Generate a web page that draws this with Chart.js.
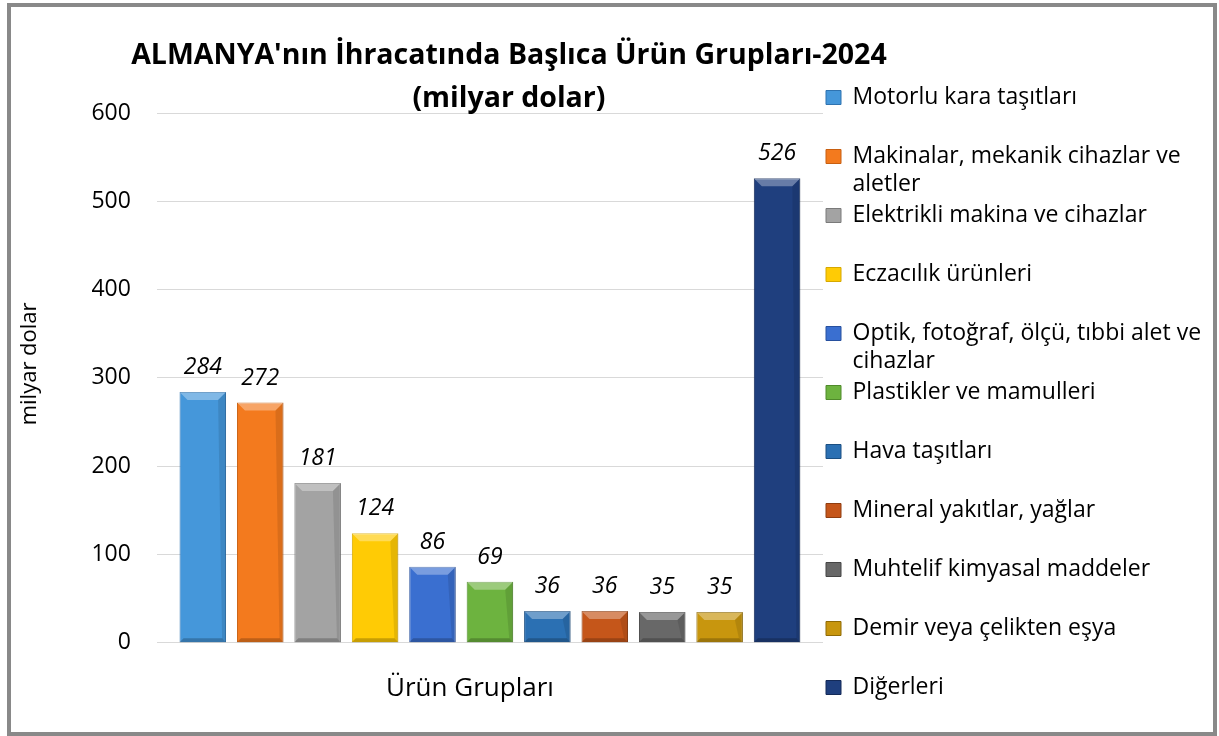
<!DOCTYPE html>
<html lang="tr">
<head>
<meta charset="utf-8">
<title>ALMANYA'nın İhracatında Başlıca Ürün Grupları-2024</title>
<script src="https://cdn.jsdelivr.net/npm/chart.js@4.4.1/dist/chart.umd.min.js"></script>
<style>
  html, body { margin: 0; padding: 0; background: #fff; }
  .frame {
    position: absolute; left: 7px; top: 3px;
    width: 1210px; height: 733px;
    box-sizing: border-box;
    border: 4px solid #898989;
    background: #fff;
  }
  .chart-box { position: relative; width: 1202px; height: 725px; }
</style>
</head>
<body>
<div class="frame"><div class="chart-box"><canvas id="exportChart"></canvas></div></div>
<script>
// veriler
const categories = [
  'Motorlu kara taşıtları',
  'Makinalar, mekanik cihazlar ve aletler',
  'Elektrikli makina ve cihazlar',
  'Eczacılık ürünleri',
  'Optik, fotoğraf, ölçü, tıbbi alet ve cihazlar',
  'Plastikler ve mamulleri',
  'Hava taşıtları',
  'Mineral yakıtlar, yağlar',
  'Muhtelif kimyasal maddeler',
  'Demir veya çelikten eşya',
  'Diğerleri'
];
const values = [284, 272, 181, 124, 86, 69, 36, 36, 35, 35, 526];
const yTicks = [0, 100, 200, 300, 400, 500, 600];

const barColors = ['#4597da', '#f37a1e', '#a3a3a3', '#ffcb05', '#3a6fd0', '#6db33f',
                   '#2b70b3', '#c5561a', '#686868', '#c8960e', '#1f3f7e'];
const edgeColors = ['#2f73b0', '#c85f10', '#7a7a7a', '#d6a800', '#27509e', '#4f8a2a',
                    '#1b4f82', '#8f3d10', '#454545', '#8f6a05', '#142a58'];

const FONT = 'Open Sans';
const LEGEND_WIDTH = 388;

function wrapText(ctx, text, maxW) {
  const words = text.split(' ');
  const lines = [];
  let line = '';
  words.forEach(w => {
    const test = line ? line + ' ' + w : w;
    if (line && ctx.measureText(test).width > maxW) {
      lines.push(line);
      line = w;
    } else {
      line = test;
    }
  });
  lines.push(line);
  return lines;
}

// lejant, Excel'deki gibi geniş olsun (varsayılan sınır genişliğin 1/4'ü)
const legendWidth = {
  id: 'legendWidth',
  beforeLayout(chart) {
    const lg = chart.legend;
    if (lg && !lg._wide) {
      const orig = lg.update.bind(lg);
      lg.update = (mw, mh, margins) => orig(LEGEND_WIDTH, mh, margins);
      lg._wide = true;
    }
  }
};

// başlık ve eksen başlıkları Excel'deki yerlerine
const titleShift = {
  id: 'titleShift',
  afterLayout(chart) {
    const area = chart.chartArea;
    const cx = (area.left + area.right) / 2 + 19;
    const TitleCls = chart.titleBlock && chart.titleBlock.constructor;
    chart.boxes.forEach(b => {
      if (TitleCls && b instanceof TitleCls) {
        b.left = cx - 460;
        b.right = cx + 460;
      }
    });
    const xs = chart.scales.x, ys = chart.scales.y;
    xs.left -= 20; xs.right -= 20;
    ys.top -= 14; ys.bottom -= 14;
  }
};

// çubuk üzerindeki kabartma efekti + değer etiketleri
const barDecor = {
  id: 'barDecor',
  afterDatasetsDraw(chart) {
    const ctx = chart.ctx;
    const meta = chart.getDatasetMeta(0);
    ctx.save();
    meta.data.forEach((bar, i) => {
      const p = bar.getProps(['x', 'y', 'base', 'width'], true);
      const l = p.x - p.width / 2, r = p.x + p.width / 2, t = p.y, btm = p.base;
      const b = Math.min(8, (btm - t) / 2);
      ctx.fillStyle = 'rgba(255,255,255,0.32)';
      ctx.beginPath();
      ctx.moveTo(l, t); ctx.lineTo(r, t); ctx.lineTo(r - b, t + b); ctx.lineTo(l + b, t + b);
      ctx.closePath(); ctx.fill();
      ctx.fillStyle = 'rgba(0,0,0,0.10)';
      ctx.beginPath();
      ctx.moveTo(r, t); ctx.lineTo(r, btm); ctx.lineTo(r - 4, btm - 4); ctx.lineTo(r - b, t + b);
      ctx.closePath(); ctx.fill();
      ctx.fillStyle = 'rgba(0,0,0,0.22)';
      ctx.beginPath();
      ctx.moveTo(l, btm); ctx.lineTo(r, btm); ctx.lineTo(r - 4, btm - 4); ctx.lineTo(l + 4, btm - 4);
      ctx.closePath(); ctx.fill();

      ctx.fillStyle = '#000';
      ctx.font = 'italic 23px "' + FONT + '"';
      ctx.textAlign = 'center';
      ctx.textBaseline = 'alphabetic';
      ctx.fillText(String(values[i]), p.x, t - 18);
    });
    ctx.restore();
  }
};

const data = {
  datasets: [{
    data: values.map((v, i) => ({ x: i, y: v })),
    backgroundColor: barColors,
    borderColor: edgeColors,
    borderWidth: 1,
    categoryPercentage: 1,
    barPercentage: 0.81,
    clip: false
  }]
};

const config = {
  type: 'bar',
  data: data,
  options: {
    responsive: true,
    maintainAspectRatio: false,
    animation: false,
    layout: { padding: { top: 0, right: 2, bottom: 0, left: 0 } },
    scales: {
      x: {
        type: 'linear',
        offset: false,
        min: -0.8,
        max: 10.8,
        afterBuildTicks: (scale) => { scale.ticks = categories.map((c, i) => ({ value: i })); },
        grid: { display: false },
        border: { display: false },
        ticks: { display: false },
        title: {
          display: true, text: 'Ürün Grupları', color: '#000',
          font: { family: FONT, size: 26 },
          padding: { top: 22, bottom: 28 }
        }
      },
      y: {
        min: 0,
        max: 600,
        afterBuildTicks: (scale) => { scale.ticks = yTicks.map(v => ({ value: v })); },
        ticks: { padding: 26, color: '#000', font: { family: FONT, size: 23 } },
        grid: { color: '#d9d9d9', lineWidth: 1, drawTicks: false },
        border: { display: false },
        title: {
          display: true, text: 'milyar dolar', color: '#000',
          font: { family: FONT, size: 22 },
          padding: { top: 6, bottom: 22 }
        }
      }
    },
    plugins: {
      tooltip: { enabled: false },
      title: {
        display: true,
        fullSize: false,
        text: "ALMANYA'nın İhracatında Başlıca Ürün Grupları-2024",
        color: '#000',
        font: { family: FONT, size: 28.5, weight: 'bold', lineHeight: '32px' },
        padding: { top: 33, bottom: 13 }
      },
      subtitle: {
        display: true,
        fullSize: false,
        text: '(milyar dolar)',
        color: '#000',
        font: { family: FONT, size: 28.5, weight: 'bold', lineHeight: '28px' },
        padding: { top: 0, bottom: 0 }
      },
      legend: {
        position: 'right',
        align: 'start',
        title: { display: true, text: ' ', font: { size: 10, lineHeight: 1 }, padding: { top: 66, bottom: 0 } },
        labels: {
          boxWidth: 15,
          boxHeight: 14,
          padding: 3,
          color: '#000',
          font: { family: FONT, size: 23, lineHeight: '28px' },
          generateLabels(chart) {
            const ctx = chart.ctx;
            ctx.save();
            ctx.font = '23px "' + FONT + '"';
            const items = categories.map((name, i) => {
              const lines = wrapText(ctx, name, 370);
              let text = lines.length > 1 ? lines : [lines[0], ''];
              if (i === categories.length - 1 && lines.length === 1) text = lines[0];
              return {
                text: text,
                fillStyle: barColors[i],
                strokeStyle: edgeColors[i],
                fontColor: '#000',
                lineWidth: 1,
                hidden: false,
                index: i
              };
            });
            ctx.restore();
            return items;
          }
        }
      }
    }
  },
  plugins: [legendWidth, titleShift, barDecor]
};

const exportChart = new Chart(document.getElementById('exportChart'), config);
</script>
</body>
</html>
